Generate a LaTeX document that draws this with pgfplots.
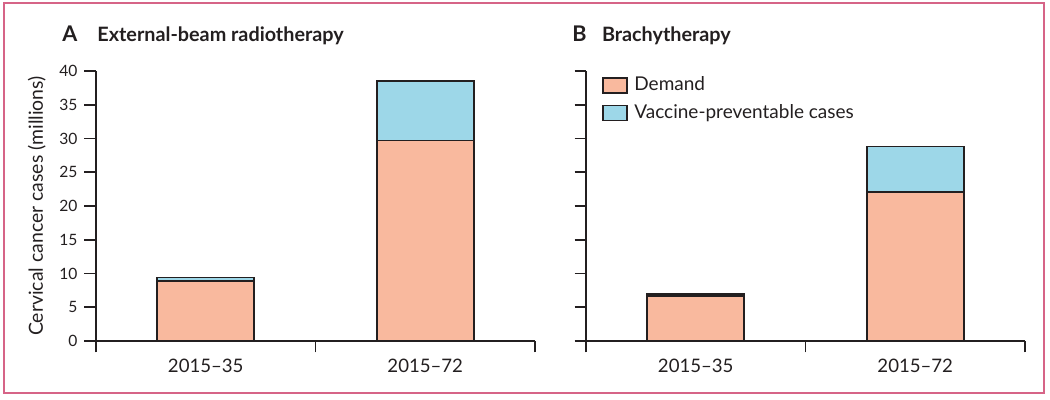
\documentclass[border=0pt]{standalone}
\usepackage{fontspec}
\setmainfont{Lato}
\usepackage{pgfplots}
\usepackage{pgfplotstable}
\pgfplotsset{compat=1.18}
\definecolor{demand}{RGB}{249,185,158}
\definecolor{vacc}{RGB}{157,215,232}
\definecolor{framec}{RGB}{214,100,135}
\definecolor{ink}{RGB}{35,31,32}

\pgfplotstableread{
x demand vacc
0 8.9 0.5
1 29.7 8.8
}\ebrt
\pgfplotstableread{
x demand vacc
0 6.7 0.3
1 22.1 6.7
}\brachy

\pgfplotsset{
  panel/.style={
    anchor=south west,
    scale only axis,
    width=219.5pt, height=135pt,
    xmin=-0.5, xmax=1.5, ymin=0, ymax=40,
    axis x line=bottom, axis y line=left,
    axis line style={-, line width=0.9pt, draw=ink},
    every tick/.style={line width=0.9pt, draw=ink},
    tick align=outside,
    major tick length=5.75pt,
    /pgf/number format/assume math mode=true,
    xtick={-0.5,0.5,1.5}, xticklabels={},
    extra x ticks={0,1},
    extra x tick labels={2015–35,2015–72},
    extra x tick style={major tick length=0pt, tick label style={yshift=-5.5pt, font=\fontsize{9.3}{11}\selectfont}},
    ytick={0,5,...,40},
    tick label style={font=\fontsize{7.8}{9}\selectfont, text=ink},
    ybar stacked, bar width=48.5pt,
    clip=false,
  }
}

\begin{document}
\begin{tikzpicture}
\path (0pt,0pt) rectangle (525pt,200pt);
\draw[framec, line width=0.75pt] (2pt,3.5pt) rectangle (522pt,198.5pt);

\node[anchor=base west, inner sep=0pt, font=\bfseries\fontsize{10.8}{12}\selectfont, text=ink] at (31pt,179pt) {A};
\node[anchor=base west, inner sep=0pt, font=\bfseries\fontsize{9.9}{11}\selectfont, text=ink] at (48.5pt,179pt) {External-beam radiotherapy};
\node[anchor=base west, inner sep=0pt, font=\bfseries\fontsize{10.8}{12}\selectfont, text=ink] at (286pt,179pt) {B};
\node[anchor=base west, inner sep=0pt, font=\bfseries\fontsize{9.9}{11}\selectfont, text=ink] at (300.8pt,179pt) {Brachytherapy};

\begin{axis}[panel, at={(48pt,29.5pt)},
  ylabel={Cervical cancer cases (millions)},
  ylabel style={font=\fontsize{9.7}{11}\selectfont, text=ink, xshift=0pt},
]
\addplot[fill=demand, draw=ink, line width=0.9pt] table[x=x,y=demand] {\ebrt};
\addplot[fill=vacc, draw=ink, line width=0.9pt] table[x=x,y=vacc] {\ebrt};
\end{axis}

\begin{axis}[panel, at={(293pt,29.5pt)}, yticklabels={},
  legend style={at={(rel axis cs:0,1)}, anchor=north west, xshift=8pt, yshift=-1pt,
    draw=none, fill=none, inner sep=0pt, row sep=2pt,
    font=\fontsize{9.5}{11}\selectfont, text=ink,
    nodes={inner sep=1.7pt}},
  legend cell align=left,
  legend image code/.code={\draw[#1, line width=0.8pt] (0pt,-3.75pt) rectangle (12pt,3.75pt);},
  /tikz/every odd column/.append style={column sep=1.5pt},
]
\addplot[fill=demand, draw=ink, line width=0.9pt] table[x=x,y=demand] {\brachy};
\addlegendentry{Demand}
\addplot[fill=vacc, draw=ink, line width=0.9pt] table[x=x,y=vacc] {\brachy};
\addlegendentry{Vaccine-preventable cases}
\end{axis}
\end{tikzpicture}
\end{document}
